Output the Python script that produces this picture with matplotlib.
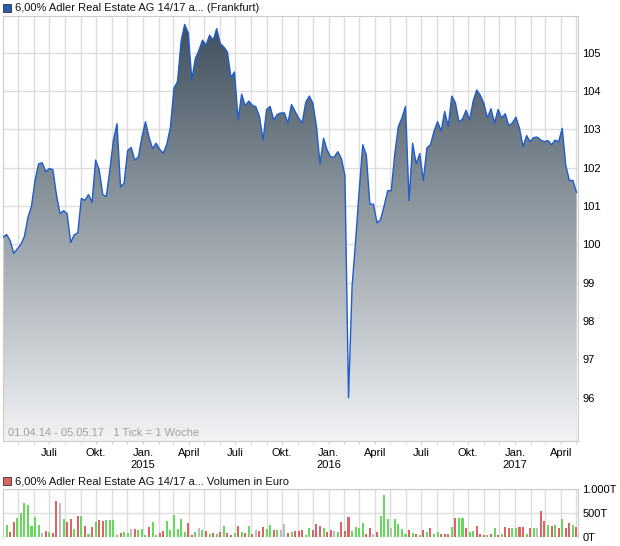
import numpy as np
import pandas as pd
import matplotlib
matplotlib.use('Agg')
import matplotlib.pyplot as plt
import matplotlib.dates as mdates
from matplotlib.colors import LinearSegmentedColormap
from matplotlib.patches import Rectangle

plt.rcParams['font.family'] = ['Liberation Sans', 'DejaVu Sans']

# weekly closing prices 01.04.14 - 05.05.17
prices = [
    100.18, 100.26, 100.1, 99.77, 99.88, 100.0, 100.2, 100.7, 101.0, 101.67,
    102.1, 102.13, 101.9, 101.98, 101.95, 101.3, 100.8, 100.88, 100.8, 100.05,
    100.25, 100.3, 101.2, 101.15, 101.3, 101.1, 102.2, 101.95, 101.3, 101.25,
    101.95, 102.72, 103.15, 101.5, 101.6, 102.45, 102.53, 102.2, 102.28, 102.8,
    103.2, 102.8, 102.5, 102.64, 102.48, 102.38, 102.62, 103.05, 104.08, 104.25,
    105.3, 105.74, 105.52, 104.3, 104.85, 105.06, 105.33, 105.2, 105.46, 105.33,
    105.63, 105.24, 105.15, 105.02, 104.36, 104.5, 103.25, 103.92, 103.62, 103.74,
    103.63, 103.59, 103.34, 102.72, 103.52, 103.6, 103.25, 103.39, 103.43, 103.43,
    103.17, 103.65, 103.47, 103.3, 103.17, 103.71, 103.87, 103.68, 103.08, 102.1,
    102.77, 102.46, 102.28, 102.28, 102.42, 102.24, 101.8, 96.0, 98.9, 100.1,
    101.4, 102.6, 102.33, 101.05, 101.05, 100.56, 100.65, 101.0, 101.4, 101.4,
    102.37, 103.08, 103.3, 103.6, 101.14, 102.64, 102.1, 102.37, 101.67, 102.52,
    102.6, 102.95, 103.2, 102.96, 103.47, 103.08, 103.87, 103.7, 103.2, 103.27,
    103.5, 103.25, 103.74, 104.03, 103.89, 103.68, 103.3, 103.54, 103.17, 103.52,
    103.3, 103.41, 103.1, 103.17, 103.32, 103.03, 102.55, 102.84, 102.68, 102.79,
    102.8, 102.72, 102.68, 102.71, 102.6, 102.72, 102.68, 103.03, 102.06, 101.67,
    101.67, 101.36]

# weekly volume in thousand euro (T)
volumes = [
    775, 246, 99, 310, 394, 500, 711, 669, 225, 415,
    246, 77, 120, 99, 77, 753, 711, 373, 310, 373,
    162, 437, 437, 225, 56, 204, 310, 352, 331, 352,
    352, 352, 35, 77, 99, 77, 162, 162, 141, 162,
    35, 204, 310, 35, 77, 120, 331, 141, 458, 162,
    373, 99, 289, 35, 99, 183, 141, 120, 56, 77,
    56, 99, 225, 77, 35, 77, 225, 99, 77, 225,
    56, 141, 120, 204, 162, 246, 141, 141, 141, 268,
    77, 99, 120, 120, 141, 35, 183, 141, 268, 225,
    183, 99, 141, 120, 99, 310, 120, 415, 120, 204,
    183, 289, 56, 183, 56, 99, 437, 880, 373, 183,
    373, 268, 162, 56, 141, 77, 56, 35, 141, 99,
    183, 56, 99, 56, 56, 56, 204, 394, 394, 394,
    183, 99, 120, 225, 56, 35, 35, 56, 183, 35,
    56, 204, 183, 183, 183, 204, 204, 56, 183, 183,
    183, 542, 331, 246, 225, 246, 183, 373, 183, 289, 246, 204]

# g = up, r = down, n = unchanged
vol_dir = ("ngrrgggggg" "gnrgrrngrr" "grgrgrgrrg" "gggrggnrgg"
           "grggrrgggg" "ggrrgngrgr" "grgrrgrgrg" "rnrrggrgnn"
           "rgrrrggrrr" "grrngrrrgg" "ggrrnrgggn" "ggggrgrgrg"
           "rggrrrgrgg" "rggrrrgrgr" "grrggrrgrg" "nrrgrgrgrrgr")

month_labels = ['Juli', 'Okt.', 'Jan.\n2015', 'April', 'Juli', 'Okt.',
                'Jan.\n2016', 'April', 'Juli', 'Okt.', 'Jan.\n2017', 'April']

dates = pd.date_range('2014-04-01', periods=len(prices), freq='7D')
x = mdates.date2num(dates)
x0 = mdates.date2num(pd.Timestamp('2014-04-01'))
x1 = mdates.date2num(pd.Timestamp('2017-05-05'))

grid_c = '#dddddd'
frame_c = '#cccccc'
col_map = {'g': '#66d95c', 'r': '#dd6464', 'n': '#bdbdbd'}

fig = plt.figure(figsize=(6.2, 5.46), dpi=100)

# price chart
ax = fig.add_axes([3/620, 1-441/546, 575/620, 425/546])
ymin, ymax = 94.87, 105.96

poly = ax.fill_between(x, prices, ymin, facecolor='none', edgecolor='none')
cmap = LinearSegmentedColormap.from_list('fill', ['#f2f3f5', '#3c4d5a'])
grad = np.linspace(0, 1, 256).reshape(-1, 1)
im = ax.imshow(grad, extent=[x0, x1, ymin, ymax], origin='lower', aspect='auto',
               cmap=cmap, zorder=2)
im.set_clip_path(poly.get_paths()[0], transform=ax.transData)
ax.plot(x, prices, color='#1f5ccc', lw=1.0, zorder=3)
ax.set_xlim(x0, x1)
ax.set_ylim(ymin, ymax)

ax.set_yticks(range(96, 106))
ax.yaxis.tick_right()
ax.tick_params(axis='y', length=0, pad=3, labelsize=8)
month_ticks = pd.date_range('2014-05-01', '2017-05-01', freq='MS')
ax.set_xticks(mdates.date2num(month_ticks), minor=True)
label_ticks = pd.date_range('2014-07-01', '2017-04-01', freq='QS')
ax.set_xticks(mdates.date2num(label_ticks))
ax.set_xticklabels(month_labels)
ax.tick_params(axis='x', which='both', length=2, color=frame_c, pad=3, labelsize=8)
ax.grid(True, which='both', color=grid_c, lw=1, zorder=0)
ax.set_axisbelow(True)
for s in ax.spines.values():
    s.set_color(frame_c)

ax.text(0.008, 0.006, '01.04.14 - 05.05.17   1 Tick = 1 Woche', transform=ax.transAxes,
        fontsize=8, color='#a0a0a0', va='bottom', ha='left', zorder=4)

# titles with coloured squares
fig.patches.append(Rectangle((3/620, 1-12/546), 8/620, 8/546, transform=fig.transFigure,
                             facecolor='#2a5db0', edgecolor='#333333', lw=0.6))
fig.text(15/620, 1-8/546, '6,00% Adler Real Estate AG 14/17 a... (Frankfurt)',
         fontsize=8, va='center', ha='left', color='#111111')
fig.patches.append(Rectangle((3/620, 1-485/546), 8/620, 8/546, transform=fig.transFigure,
                             facecolor='#dd6464', edgecolor='#333333', lw=0.6))
fig.text(15/620, 1-481/546, '6,00% Adler Real Estate AG 14/17 a... Volumen in Euro',
         fontsize=8, va='center', ha='left', color='#111111')

# volume chart
axv = fig.add_axes([3/620, 1-537/546, 575/620, 48/546])
axv.bar(x, volumes, width=4.0, color=[col_map[c] for c in vol_dir], zorder=2)
axv.set_xlim(x0, x1)
axv.set_ylim(0, 1000)
axv.set_yticks([0, 500, 1000])
axv.set_yticklabels(['0T', '500T', '1.000T'])
axv.yaxis.tick_right()
axv.tick_params(axis='y', length=0, pad=3, labelsize=8)
axv.set_xticks(mdates.date2num(month_ticks))
axv.tick_params(axis='x', length=0, labelbottom=False)
axv.grid(True, color=grid_c, lw=1, zorder=0)
axv.set_axisbelow(True)
for s in axv.spines.values():
    s.set_color(frame_c)
axv.spines['bottom'].set_visible(False)

fig.savefig('out.png', dpi=100)
